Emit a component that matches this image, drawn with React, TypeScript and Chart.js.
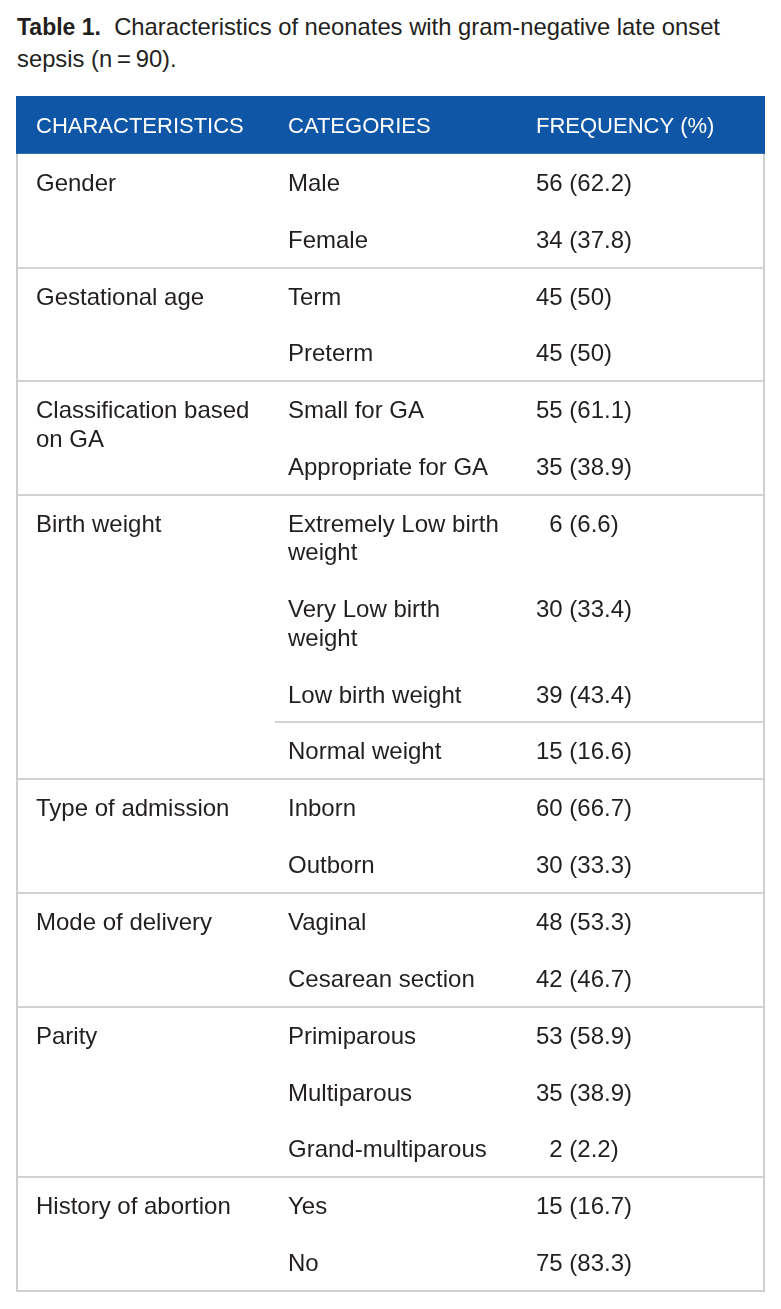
import React, { useEffect, useRef } from "react";
import { Chart, registerables } from "chart.js";
Chart.register(...registerables);

// ---- data ----
const TITLE_LABEL = "Table 1.";
const TITLE_LINES = [
  "Characteristics of neonates with gram-negative late onset",
  "sepsis (n\u2009=\u200990).",
];
const HEADERS = ["CHARACTERISTICS", "CATEGORIES", "FREQUENCY (%)"];
const CHARACTERISTICS = [
  "Gender",
  "Gestational age",
  "Classification based on GA",
  "Birth weight",
  "Type of admission",
  "Mode of delivery",
  "Parity",
  "History of abortion",
];
const CATEGORIES = [
  ["Male", "Female"],
  ["Term", "Preterm"],
  ["Small for GA", "Appropriate for GA"],
  ["Extremely Low birth weight", "Very Low birth weight", "Low birth weight", "Normal weight"],
  ["Inborn", "Outborn"],
  ["Vaginal", "Cesarean section"],
  ["Primiparous", "Multiparous", "Grand-multiparous"],
  ["Yes", "No"],
];
const COUNTS = [[56, 34], [45, 45], [55, 35], [6, 30, 39, 15], [60, 30], [48, 42], [53, 35, 2], [15, 75]];
const PERCENTS = [
  ["62.2", "37.8"],
  ["50", "50"],
  ["61.1", "38.9"],
  ["6.6", "33.4", "43.4", "16.6"],
  ["66.7", "33.3"],
  ["53.3", "46.7"],
  ["58.9", "38.9", "2.2"],
  ["16.7", "83.3"],
];
// rule inside Birth weight group, after "Low birth weight"
const INNER_RULE = { group: 3, after: 2 };

// ---- style ----
const FONT = "'Liberation Sans', Arial, Helvetica, sans-serif";
const BODY_SIZE = 24;
const HEAD_SIZE = 22;
const TEXT_COLOR = "#231f20";
const HEAD_BG = "#1056a6";
const RULE_COLOR = "#d3d3d3";
const BORDER_COLOR = "#cfcfcf";
const TABLE_W = 747;
const COL_TEXT_X = [19, 271, 519];
const COL_WRAP = [228, 222, 222];
const INNER_RULE_X = 258;

function wrap(ctx: CanvasRenderingContext2D, text: string, maxW: number): string[] {
  const words = text.split(" ");
  const lines: string[] = [];
  let cur = "";
  for (const w of words) {
    const t = cur ? cur + " " + w : w;
    if (cur && ctx.measureText(t).width > maxW) {
      lines.push(cur);
      cur = w;
    } else cur = t;
  }
  if (cur) lines.push(cur);
  return lines;
}

export default function App() {
  const ref = useRef<HTMLCanvasElement>(null);

  useEffect(() => {
    const canvas = ref.current!;
    const mctx = canvas.getContext("2d")!;
    mctx.font = `${BODY_SIZE}px ${FONT}`;
    const digitW = mctx.measureText("0").width;

    const header = { pts: [] as any[], texts: [] as string[], shifts: [] as number[] };
    const chars = { pts: [] as any[], texts: [] as string[], shifts: [] as number[] };
    const cats = { pts: [] as any[], texts: [] as string[], shifts: [] as number[] };
    const freqs = { pts: [] as any[], texts: [] as string[], shifts: [] as number[] };

    HEADERS.forEach((h, i) => {
      header.pts.push({ x: COL_TEXT_X[i], y: 1 });
      header.texts.push(h);
      header.shifts.push(0);
    });

    let line = 2;
    const groupRules: number[] = [];
    let innerRule = -1;
    CHARACTERISTICS.forEach((c, g) => {
      const gTop = line;
      wrap(mctx, c, COL_WRAP[0]).forEach((t, k) => {
        chars.pts.push({ x: COL_TEXT_X[0], y: gTop + 1 + k });
        chars.texts.push(t);
        chars.shifts.push(0);
      });
      CATEGORIES[g].forEach((cat, j) => {
        const rTop = line;
        const lines = wrap(mctx, cat, COL_WRAP[1]);
        lines.forEach((t, k) => {
          cats.pts.push({ x: COL_TEXT_X[1], y: rTop + 1 + k });
          cats.texts.push(t);
          cats.shifts.push(0);
        });
        const n = COUNTS[g][j];
        freqs.pts.push({ x: COL_TEXT_X[2], y: rTop + 1 });
        freqs.texts.push(`${n} (${PERCENTS[g][j]})`);
        freqs.shifts.push(n < 10 ? digitW : 0);
        line += 2 + (lines.length - 1);
        if (g === INNER_RULE.group && j === INNER_RULE.after) innerRule = line;
      });
      if (g < CHARACTERISTICS.length - 1) groupRules.push(line);
    });
    const totalUnits = line;

    const mk = (label: string, d: any, size: number, color: string, bold = false) => ({
      label,
      data: d.pts,
      texts: d.texts,
      shifts: d.shifts,
      fontSize: size,
      textColor: color,
      bold,
      pointRadius: 0,
      hoverRadius: 0,
      showLine: false,
    });

    const tablePlugin = {
      id: "tableDraw",
      beforeDatasetsDraw(chart: any) {
        const { ctx, scales } = chart;
        const xs = scales.x;
        const ys = scales.y;
        const x0 = xs.getPixelForValue(0);
        const x1 = xs.getPixelForValue(TABLE_W);
        const y0 = ys.getPixelForValue(0);
        const yh = ys.getPixelForValue(2);
        const yb = ys.getPixelForValue(totalUnits);
        ctx.save();
        ctx.fillStyle = "#ffffff";
        ctx.fillRect(x0, y0, x1 - x0, yb - y0);
        // rules
        ctx.strokeStyle = RULE_COLOR;
        ctx.lineWidth = 2;
        groupRules.forEach((u) => {
          const y = Math.round(ys.getPixelForValue(u));
          ctx.beginPath();
          ctx.moveTo(x0, y);
          ctx.lineTo(x1, y);
          ctx.stroke();
        });
        if (innerRule > 0) {
          const y = Math.round(ys.getPixelForValue(innerRule));
          ctx.beginPath();
          ctx.moveTo(xs.getPixelForValue(INNER_RULE_X), y);
          ctx.lineTo(x1, y);
          ctx.stroke();
        }
        // outer border
        ctx.strokeStyle = BORDER_COLOR;
        ctx.lineWidth = 2;
        ctx.strokeRect(x0, y0, x1 - x0, yb - y0);
        // header background
        ctx.fillStyle = HEAD_BG;
        ctx.fillRect(x0 - 1, y0 - 1, x1 - x0 + 2, yh - y0 + 1);
        ctx.restore();
      },
      afterDatasetsDraw(chart: any) {
        const { ctx } = chart;
        ctx.save();
        ctx.textAlign = "left";
        ctx.textBaseline = "alphabetic";
        chart.data.datasets.forEach((ds: any, i: number) => {
          const meta = chart.getDatasetMeta(i);
          ctx.font = `${ds.bold ? "bold " : ""}${ds.fontSize}px ${FONT}`;
          ctx.fillStyle = ds.textColor;
          const off = ds.fontSize * 0.716 / 2;
          meta.data.forEach((el: any, k: number) => {
            ctx.fillText(ds.texts[k], el.x + ds.shifts[k], el.y + off);
          });
        });
        ctx.restore();
      },
    };

    const chart = new Chart(canvas, {
      type: "scatter",
      data: {
        datasets: [
          mk("header", header, HEAD_SIZE, "#ffffff"),
          mk("characteristics", chars, BODY_SIZE, TEXT_COLOR),
          mk("categories", cats, BODY_SIZE, TEXT_COLOR),
          mk("frequency", freqs, BODY_SIZE, TEXT_COLOR),
        ] as any,
      },
      options: {
        animation: false,
        responsive: false,
        maintainAspectRatio: false,
        devicePixelRatio: 1,
        events: [],
        layout: { padding: { left: 1, top: 1, right: 2, bottom: 2 } },
        plugins: { legend: { display: false }, tooltip: { enabled: false }, title: { display: false } },
        scales: {
          x: { type: "linear", min: 0, max: TABLE_W, display: false },
          y: { type: "linear", min: 0, max: totalUnits, reverse: true, display: false },
        },
      } as any,
      plugins: [tablePlugin],
    });
    return () => chart.destroy();
  }, []);

  return (
    <div style={{ position: "relative", width: 765, height: 1293, fontFamily: FONT, color: TEXT_COLOR }}>
      <div style={{ position: "absolute", left: 9, top: 3, fontSize: 23.8, lineHeight: "32px", whiteSpace: "nowrap" }}>
        <b style={{ fontSize: 23 }}>{TITLE_LABEL}</b>
        {"\u00a0 "}
        {TITLE_LINES[0]}
        <br />
        {TITLE_LINES[1]}
      </div>
      <canvas
        ref={ref}
        width={750}
        height={1197}
        style={{ position: "absolute", left: 8, top: 88, width: 750, height: 1197 }}
      />
    </div>
  );
}
